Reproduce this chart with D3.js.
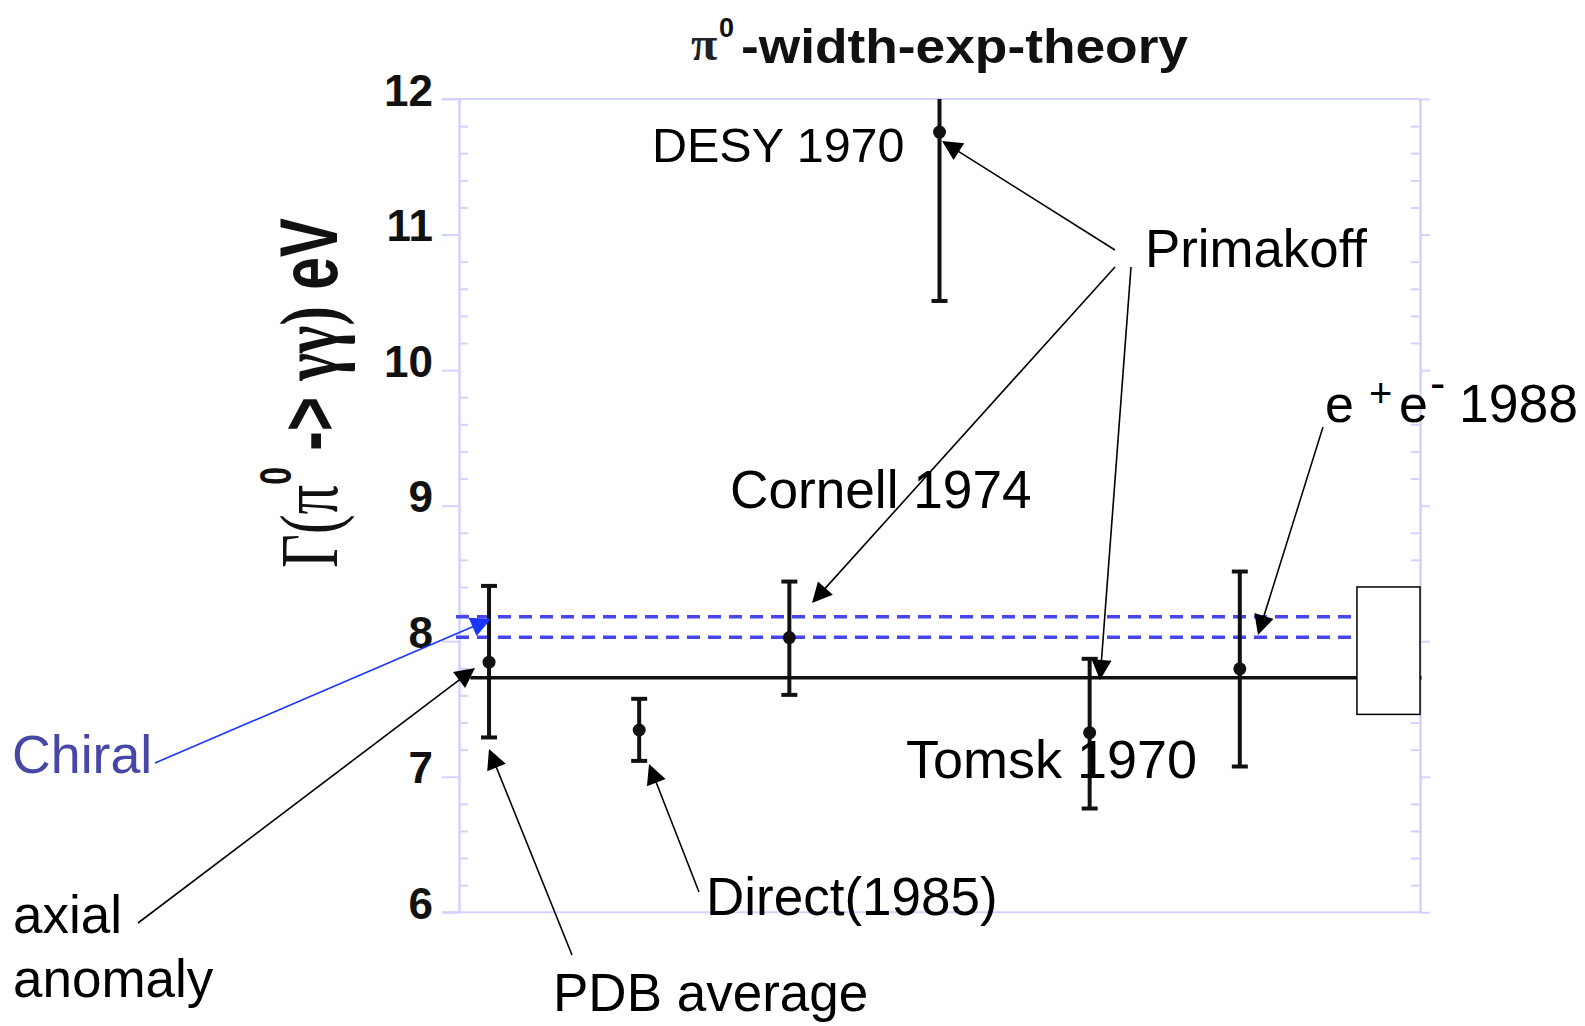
<!DOCTYPE html>
<html><head><meta charset="utf-8">
<script src="https://cdn.jsdelivr.net/npm/d3@7"></script>
<style>body{margin:0;background:#fff} svg{display:block}</style>
</head><body>
<svg id="chart" width="1585" height="1026"></svg>
<script>
// ---- data ----
const experiments = ["PDB average","Direct(1985)","Cornell 1974","DESY 1970","Tomsk 1970","e+e- 1988"];
const slots      = [1, 2, 3, 4, 5, 6];
const widthEV    = [7.845, 7.345, 8.027, 11.756, 7.325, 7.796];
const errLow     = [7.29, 7.117, 7.604, 10.51, 6.765, 7.075];
const errHigh    = [8.408, 7.575, 8.44, 13.0, 7.87, 8.514];
const axialAnomaly = 7.73;
const chiralBand   = [8.03, 8.18];
const theoryBoxSlots = [6.78, 7.2];
const theoryBoxRange = [7.46, 8.40];
const yTicks = [6, 7, 8, 9, 10, 11, 12];
const yTickLabels = ["6", "7", "8", "9", "10", "11", "12"];
const xDomain = [0.8, 7.2];
const yDomain = [6, 12];

// ---- layout ----
const svg = d3.select("#chart");
const L = 459, R = 1420, T = 99, B = 912.3;
const x = d3.scaleLinear().domain(xDomain).range([L, R]);
const y = d3.scaleLinear().domain(yDomain).range([B, T]);
const frameColor = "#d2d2ff";
const minor = d3.range(6, 12.001, 0.2).filter(v => Math.abs(v - Math.round(v)) > 0.01);

function styleAxis(g) {
  g.selectAll("path.domain").attr("stroke", frameColor).attr("stroke-width", 2);
  g.selectAll(".tick line").attr("stroke", frameColor).attr("stroke-width", 2);
}

// frame top/bottom
svg.append("line").attr("x1", 442).attr("x2", R).attr("y1", y(12)).attr("y2", y(12))
  .attr("stroke", frameColor).attr("stroke-width", 2);
svg.append("line").attr("x1", 442).attr("x2", R).attr("y1", y(6)).attr("y2", y(6))
  .attr("stroke", frameColor).attr("stroke-width", 2);

// left axis major
const gl = svg.append("g").attr("transform", `translate(${L},0)`)
  .call(d3.axisLeft(y).tickValues(yTicks).tickSize(17).tickSizeOuter(0).tickPadding(9)
    .tickFormat((d, i) => yTickLabels[i]));
styleAxis(gl);
gl.selectAll(".tick text").attr("font-family", "Liberation Sans, Arial, sans-serif")
  .attr("font-weight", "bold").attr("font-size", 44).attr("fill", "#111").attr("dy", "0.14em");
// left minor
styleAxis(svg.append("g").attr("transform", `translate(${L},0)`)
  .call(d3.axisRight(y).tickValues(minor).tickSize(9).tickSizeOuter(0).tickFormat("")));
// right major
styleAxis(svg.append("g").attr("transform", `translate(${R},0)`)
  .call(d3.axisRight(y).tickValues(yTicks).tickSize(10).tickSizeOuter(0).tickFormat("")));
// right minor
styleAxis(svg.append("g").attr("transform", `translate(${R},0)`)
  .call(d3.axisLeft(y).tickValues(minor).tickSize(9).tickSizeOuter(0).tickFormat("")));

// clip
svg.append("clipPath").attr("id", "plotclip").append("rect")
  .attr("x", L - 10).attr("y", T).attr("width", R - L + 20).attr("height", B - T);
const plot = svg.append("g").attr("clip-path", "url(#plotclip)");

// chiral dashed band
chiralBand.forEach(v => {
  plot.append("line").attr("x1", x(0.78)).attr("x2", x(7.2)).attr("y1", y(v)).attr("y2", y(v))
    .attr("stroke", "#4646ee").attr("stroke-width", 3.5).attr("stroke-dasharray", "13 8");
});
// axial anomaly line
plot.append("line").attr("x1", x(0.875)).attr("x2", x(7.21)).attr("y1", y(axialAnomaly)).attr("y2", y(axialAnomaly))
  .attr("stroke", "#111").attr("stroke-width", 3.5);
// theory box
plot.append("rect").attr("x", x(theoryBoxSlots[0])).attr("y", y(theoryBoxRange[1]))
  .attr("width", x(theoryBoxSlots[1]) - x(theoryBoxSlots[0]))
  .attr("height", y(theoryBoxRange[0]) - y(theoryBoxRange[1]))
  .attr("fill", "#fff").attr("stroke", "#000").attr("stroke-width", 1.5);

// error bars
const pts = slots.map((s, i) => ({s, v: widthEV[i], lo: errLow[i], hi: errHigh[i], name: experiments[i]}));
const eb = plot.selectAll("g.eb").data(pts).join("g").attr("class", "eb");
eb.append("line").attr("x1", d => x(d.s)).attr("x2", d => x(d.s))
  .attr("y1", d => y(d.lo)).attr("y2", d => y(d.hi)).attr("stroke", "#111").attr("stroke-width", 4);
eb.append("line").attr("x1", d => x(d.s) - 8).attr("x2", d => x(d.s) + 8)
  .attr("y1", d => y(d.lo)).attr("y2", d => y(d.lo)).attr("stroke", "#111").attr("stroke-width", 4);
eb.append("line").attr("x1", d => x(d.s) - 8).attr("x2", d => x(d.s) + 8)
  .attr("y1", d => y(d.hi)).attr("y2", d => y(d.hi)).attr("stroke", "#111").attr("stroke-width", 4);
eb.append("circle").attr("cx", d => x(d.s)).attr("cy", d => y(d.v)).attr("r", 6.5).attr("fill", "#111");

// title
const sans = "Liberation Sans, Arial, Helvetica, sans-serif";
const serif = "Liberation Serif, Times New Roman, serif";
svg.append("text").attr("x", 691).attr("y", 60).attr("font-family", serif).attr("font-size", 48)
  .attr("font-weight", "bold").attr("fill", "#222").text("π");
svg.append("text").attr("x", 719).attr("y", 37).attr("font-family", sans).attr("font-size", 27)
  .attr("font-weight", "bold").attr("fill", "#111").text("0");
svg.append("text").attr("x", 741).attr("y", 63).attr("font-family", sans).attr("font-size", 49)
  .attr("font-weight", "bold").attr("fill", "#111").attr("textLength", 447)
  .attr("lengthAdjust", "spacingAndGlyphs").text("-width-exp-theory");

// y label
const yl = svg.append("text").attr("transform", "translate(337,568) rotate(-90) scale(1,1.7)")
  .attr("font-size", 48).attr("fill", "#111").attr("textLength", 350).attr("lengthAdjust", "spacingAndGlyphs");
yl.append("tspan").attr("font-family", serif).text("Γ(π");
yl.append("tspan").attr("font-family", sans).attr("font-weight", "bold").attr("font-size", 26).attr("dy", -27).text("0");
yl.append("tspan").attr("font-family", sans).attr("font-weight", "bold").attr("dy", 27).text(" -> ");
yl.append("tspan").attr("font-family", serif).attr("font-weight", "bold").text("γγ)");
yl.append("tspan").attr("font-family", sans).attr("font-weight", "bold").text(" eV");

// annotation labels
const labels = [
  {t: "DESY 1970", x: 652, y: 162, size: 48.5},
  {t: "Primakoff", x: 1145, y: 267, size: 52.8},
  {t: "Cornell 1974", x: 730, y: 508, size: 53.2},
  {t: "Tomsk 1970", x: 906, y: 778, size: 54},
  {t: "Direct(1985)", x: 706, y: 915, size: 53},
  {t: "PDB average", x: 553, y: 1011, size: 53},
  {t: "Chiral", x: 12, y: 773, size: 53.7, color: "#4747a8"},
  {t: "axial", x: 13, y: 933, size: 53},
  {t: "anomaly", x: 13, y: 997, size: 53}
];
svg.selectAll("text.ann").data(labels).join("text").attr("class", "ann")
  .attr("x", d => d.x).attr("y", d => d.y).attr("font-family", sans)
  .attr("font-size", d => d.size).attr("fill", d => d.color || "#000").text(d => d.t);

// e+e- 1988
const ee = [
  {t: "e", x: 1325, y: 422, size: 52},
  {t: "+", x: 1369, y: 407, size: 40},
  {t: "e", x: 1399, y: 422, size: 52},
  {t: "-", x: 1430, y: 399, size: 46},
  {t: "1988", x: 1459, y: 422, size: 53.5}
];
svg.selectAll("text.ee").data(ee).join("text").attr("class", "ee")
  .attr("x", d => d.x).attr("y", d => d.y).attr("font-family", sans)
  .attr("font-size", d => d.size).attr("fill", "#000").text(d => d.t);

// arrows
const arrows = [
  {x1: 1115, y1: 250, x2: 942, y2: 141},
  {x1: 1115, y1: 267, x2: 812, y2: 603},
  {x1: 1131, y1: 267, x2: 1100, y2: 680},
  {x1: 1323, y1: 427, x2: 1258, y2: 635},
  {x1: 155, y1: 763, x2: 491, y2: 619, color: "#1a35ff"},
  {x1: 138, y1: 923, x2: 475, y2: 668},
  {x1: 572, y1: 955, x2: 489, y2: 749},
  {x1: 699, y1: 892, x2: 649, y2: 764}
];
const AL = 20, AW = 10;
arrows.forEach(a => {
  const c = a.color || "#000";
  const dx = a.x2 - a.x1, dy = a.y2 - a.y1, len = Math.hypot(dx, dy);
  const ux = dx / len, uy = dy / len;
  const bx = a.x2 - ux * AL, by = a.y2 - uy * AL;
  svg.append("line").attr("x1", a.x1).attr("y1", a.y1).attr("x2", bx + ux * 2).attr("y2", by + uy * 2)
    .attr("stroke", c).attr("stroke-width", 1.6);
  svg.append("polygon").attr("points",
    `${a.x2},${a.y2} ${bx - uy * AW},${by + ux * AW} ${bx + uy * AW},${by - ux * AW}`)
    .attr("fill", c);
});
</script>
</body></html>
